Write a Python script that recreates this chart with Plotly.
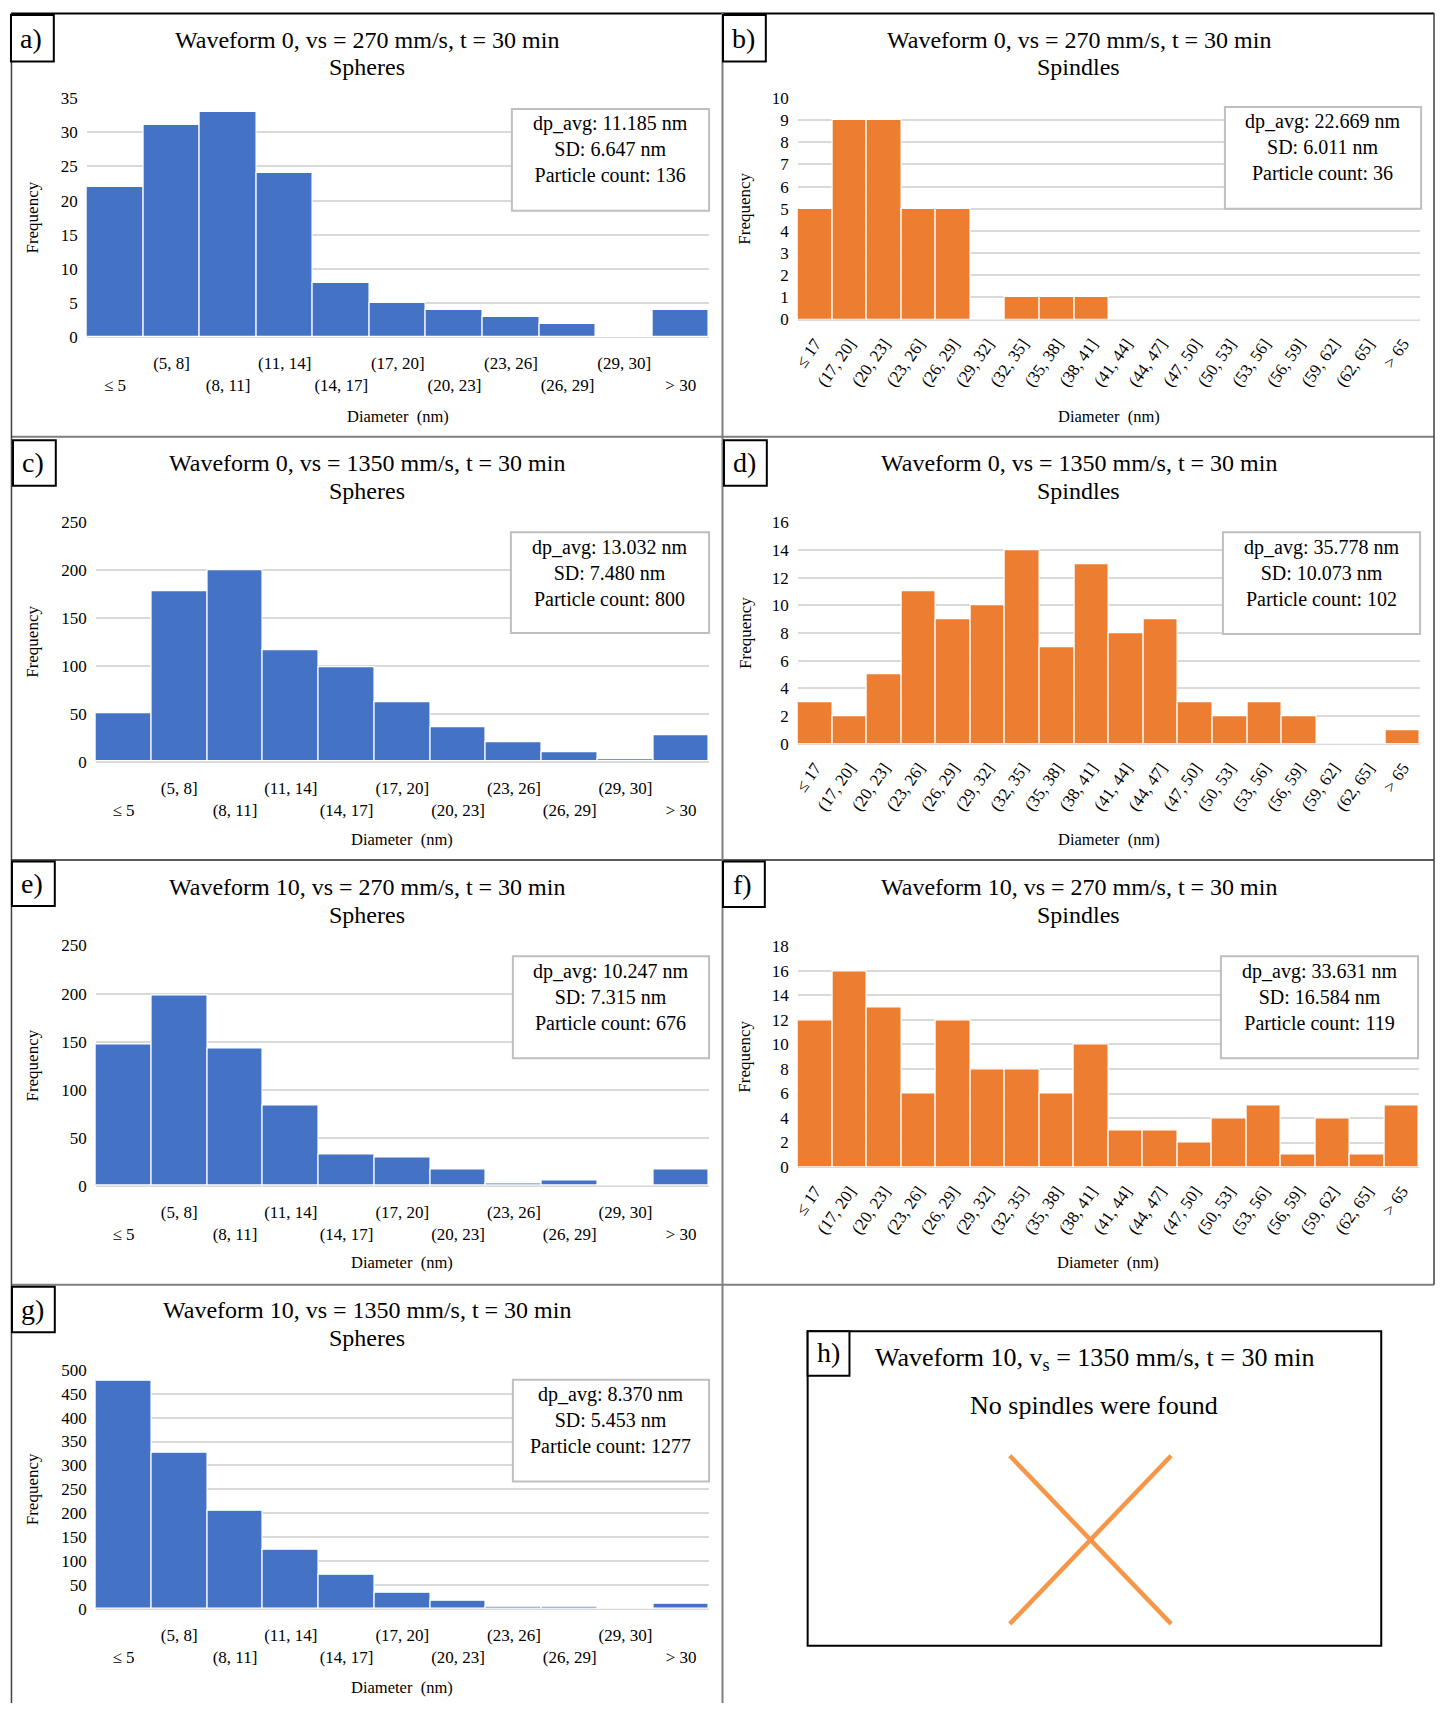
import plotly.graph_objects as go

# ---------------- data ----------------
sphere_bins = ["≤ 5", "(5, 8]", "(8, 11]", "(11, 14]", "(14, 17]", "(17, 20]",
               "(20, 23]", "(23, 26]", "(26, 29]", "(29, 30]", "> 30"]
spindle_bins = ["≤ 17", "(17, 20]", "(20, 23]", "(23, 26]", "(26, 29]", "(29, 32]",
                "(32, 35]", "(35, 38]", "(38, 41]", "(41, 44]", "(44, 47]", "(47, 50]",
                "(50, 53]", "(53, 56]", "(56, 59]", "(59, 62]", "(62, 65]", "> 65"]

a_w0_270_spheres = [22, 31, 33, 24, 8, 5, 4, 3, 2, 0, 4]
b_w0_270_spindles = [5, 9, 9, 5, 5, 0, 1, 1, 1, 0, 0, 0, 0, 0, 0, 0, 0, 0]
c_w0_1350_spheres = [50, 178, 200, 116, 99, 62, 36, 20, 10, 2, 27]
d_w0_1350_spindles = [3, 2, 5, 11, 9, 10, 14, 7, 13, 8, 9, 3, 2, 3, 2, 0, 0, 1]
e_w10_270_spheres = [147, 198, 143, 84, 33, 29, 17, 2, 6, 0, 17]
f_w10_270_spindles = [12, 16, 13, 6, 12, 8, 8, 6, 10, 3, 3, 2, 4, 5, 1, 4, 1, 5]
g_w10_1350_spheres = [476, 327, 205, 124, 71, 35, 17, 5, 5, 1, 11]

titles = ["Waveform 0, vs = 270 mm/s, t = 30 min", "Waveform 0, vs = 270 mm/s, t = 30 min",
          "Waveform 0, vs = 1350 mm/s, t = 30 min", "Waveform 0, vs = 1350 mm/s, t = 30 min",
          "Waveform 10, vs = 270 mm/s, t = 30 min", "Waveform 10, vs = 270 mm/s, t = 30 min",
          "Waveform 10, vs = 1350 mm/s, t = 30 min"]
subtitles = ["Spheres", "Spindles", "Spheres", "Spindles", "Spheres", "Spindles", "Spheres"]
labels = ["a)", "b)", "c)", "d)", "e)", "f)", "g)"]
stats = [("11.185", "6.647", "136"), ("22.669", "6.011", "36"),
         ("13.032", "7.480", "800"), ("35.778", "10.073", "102"),
         ("10.247", "7.315", "676"), ("33.631", "16.584", "119"),
         ("8.370", "5.453", "1277")]
y_max = [35, 10, 250, 16, 250, 18, 500]
y_step = [5, 1, 50, 2, 50, 2, 50]
h_title = "Waveform 10, v<sub>s</sub> = 1350 mm/s, t = 30 min"
h_text = "No spindles were found"

series = [a_w0_270_spheres, b_w0_270_spindles, c_w0_1350_spheres, d_w0_1350_spindles,
          e_w10_270_spheres, f_w10_270_spindles, g_w10_1350_spheres]
kinds = ["sph", "spi", "sph", "spi", "sph", "spi", "sph"]

BLUE = "#4472C4"
ORANGE = "#ED7D31"
X_ORANGE = "#F79646"
GRID = "#D9D9D9"
FONT = "Times New Roman, Liberation Serif, serif"

# ---------------- layout geometry (page pixels) ----------------
W, H = 1441, 1713

def fx(x):
    return x / W

def fy(y):
    return 1 - y / H

plots = [(81, 706, 90, 332), (795, 1420, 90, 314),
         (90, 706, 519, 761), (795, 1420, 519, 743),
         (90, 706, 947, 1190), (795, 1419, 948, 1171),
         (90, 706, 1376, 1618)]
stat_boxes = [(508, 706, 101, 204), (1224, 1421, 99, 202),
              (507, 706, 529, 631), (1222, 1420, 529, 632),
              (509, 706, 958, 1061), (1220, 1418, 958, 1061),
              (509, 706, 1386, 1489)]
title_pos = [(363, 31), (1077, 31), (363, 459), (1077, 459),
             (363, 888), (1077, 888), (363, 1316)]
label_boxes = [(5, 48, 6, 53), (720, 763, 6, 53), (7, 50, 436, 482), (721, 764, 436, 482),
               (6, 49, 862, 907), (720, 762, 862, 908), (6, 49, 1292, 1338)]
freq_x = [27, 742, 27, 742, 27, 742, 27]
diam_y = [412, 412, 840, 840, 1268, 1268, 1697]

fig = go.Figure()
layout = dict(
    width=W, height=H, margin=dict(l=0, r=0, t=0, b=0),
    paper_bgcolor="white", plot_bgcolor="white",
    bargap=0, showlegend=False,
    font=dict(family=FONT, color="#000000"),
)
annotations = []
shapes = []

for i in range(7):
    n = i + 1
    xa = "x" if n == 1 else f"x{n}"
    ya = "y" if n == 1 else f"y{n}"
    x0, x1, y0, y1 = plots[i]
    bins = sphere_bins if kinds[i] == "sph" else spindle_bins
    color = BLUE if kinds[i] == "sph" else ORANGE
    fig.add_trace(go.Bar(x=bins, y=series[i], xaxis=xa, yaxis=ya,
                         marker=dict(color=color, line=dict(color="white", width=1.2)),
                         hoverinfo="x+y"))
    if kinds[i] == "sph":
        # Excel staggers the sphere-bin labels over two rows
        ttext = [("<br>" + b) if k % 2 == 0 else b for k, b in enumerate(bins)]
        tangle = 0
        standoff = 14
    else:
        ttext = bins
        tangle = -55
        standoff = 10
    layout["xaxis" if n == 1 else f"xaxis{n}"] = dict(
        domain=[fx(x0), fx(x1)], anchor=ya, type="category",
        tickmode="array", tickvals=bins, ticktext=ttext, tickangle=tangle,
        tickfont=dict(size=17, family=FONT, color="#000"),
        showgrid=False, showline=False, zeroline=False, ticks="",
        ticklabelstandoff=standoff, fixedrange=True,
    )
    layout["yaxis" if n == 1 else f"yaxis{n}"] = dict(
        domain=[fy(y1), fy(y0)], anchor=xa, range=[0, y_max[i]],
        tickmode="linear", tick0=0, dtick=y_step[i],
        showgrid=True, gridcolor=GRID, gridwidth=1.5,
        zeroline=True, zerolinecolor=GRID, zerolinewidth=1.5,
        showline=False, ticks="", ticklabelstandoff=8,
        tickfont=dict(size=17, family=FONT, color="#000"), fixedrange=True,
    )
    tx, ty = title_pos[i]
    annotations.append(dict(text=titles[i], x=fx(tx), y=fy(ty), xref="paper", yref="paper",
                            xanchor="center", yanchor="middle", showarrow=False,
                            font=dict(size=24, family=FONT)))
    annotations.append(dict(text=subtitles[i], x=fx(tx), y=fy(ty + 28), xref="paper", yref="paper",
                            xanchor="center", yanchor="middle", showarrow=False,
                            font=dict(size=24, family=FONT)))
    annotations.append(dict(text="Frequency", x=fx(freq_x[i]), y=fy((y0 + y1) / 2),
                            xref="paper", yref="paper", textangle=-90,
                            xanchor="center", yanchor="middle", showarrow=False,
                            font=dict(size=17, family=FONT)))
    annotations.append(dict(text="Diameter  (nm)", x=fx((x0 + x1) / 2), y=fy(diam_y[i]),
                            xref="paper", yref="paper",
                            xanchor="center", yanchor="middle", showarrow=False,
                            font=dict(size=16.5, family=FONT)))
    sx0, sx1, sy0, sy1 = stat_boxes[i]
    shapes.append(dict(type="rect", xref="paper", yref="paper",
                       x0=fx(sx0), x1=fx(sx1), y0=fy(sy1), y1=fy(sy0),
                       line=dict(color="#BFBFBF", width=2), fillcolor="white", layer="above"))
    dp, sd, cnt = stats[i]
    annotations.append(dict(text=f"dp_avg: {dp} nm<br>SD: {sd} nm<br>Particle count: {cnt}",
                            x=fx((sx0 + sx1) / 2), y=fy(sy0 + 41), xref="paper", yref="paper",
                            xanchor="center", yanchor="middle", showarrow=False, align="center",
                            font=dict(size=20, family=FONT)))
    lx0, lx1, ly0, ly1 = label_boxes[i]
    shapes.append(dict(type="rect", xref="paper", yref="paper",
                       x0=fx(lx0), x1=fx(lx1), y0=fy(ly1), y1=fy(ly0),
                       line=dict(color="black", width=2), fillcolor="white", layer="above"))
    annotations.append(dict(text=labels[i], x=fx((lx0 + lx1) / 2 - 1), y=fy((ly0 + ly1) / 2),
                            xref="paper", yref="paper", xanchor="center", yanchor="middle",
                            showarrow=False, font=dict(size=28, family=FONT)))

def hline(y, xa, xb, color, w):
    shapes.append(dict(type="line", xref="paper", yref="paper",
                       x0=fx(xa), x1=fx(xb), y0=fy(y), y1=fy(y),
                       line=dict(color=color, width=w), layer="below"))

def vline(x, ya, yb, color, w):
    shapes.append(dict(type="line", xref="paper", yref="paper",
                       x0=fx(x), x1=fx(x), y0=fy(ya), y1=fy(yb),
                       line=dict(color=color, width=w), layer="below"))

hline(4.5, 5, 1434, "#000000", 2)
hline(432.5, 5, 1434, "#7F7F7F", 2)
hline(860.5, 5, 1434, "#595959", 2)
hline(1290, 5, 1434, "#7F7F7F", 2)
vline(5.5, 4, 1713, "#404040", 1.5)
vline(719.5, 4, 1713, "#7F7F7F", 2)
vline(1434, 4, 1290, "#404040", 1.5)

# ---------------- panel h ----------------
hx0, hx1, hy0, hy1 = 805, 1381, 1337, 1655
shapes.append(dict(type="rect", xref="paper", yref="paper",
                   x0=fx(hx0), x1=fx(hx1), y0=fy(hy1), y1=fy(hy0),
                   line=dict(color="black", width=2), fillcolor="rgba(0,0,0,0)"))
shapes.append(dict(type="rect", xref="paper", yref="paper",
                   x0=fx(805), x1=fx(847), y0=fy(1382), y1=fy(1337),
                   line=dict(color="black", width=2), fillcolor="white"))
annotations.append(dict(text="h)", x=fx(826), y=fy(1359), xref="paper", yref="paper",
                        xanchor="center", yanchor="middle", showarrow=False,
                        font=dict(size=28, family=FONT)))
annotations.append(dict(text=h_title, x=fx(1093), y=fy(1365), xref="paper", yref="paper",
                        xanchor="center", yanchor="middle", showarrow=False,
                        font=dict(size=26, family=FONT)))
annotations.append(dict(text=h_text, x=fx(1093), y=fy(1412), xref="paper", yref="paper",
                        xanchor="center", yanchor="middle", showarrow=False,
                        font=dict(size=26, family=FONT)))
shapes.append(dict(type="line", xref="paper", yref="paper",
                   x0=fx(1008), y0=fy(1463), x1=fx(1170), y1=fy(1633),
                   line=dict(color=X_ORANGE, width=4.5)))
shapes.append(dict(type="line", xref="paper", yref="paper",
                   x0=fx(1170), y0=fy(1463), x1=fx(1008), y1=fy(1633),
                   line=dict(color=X_ORANGE, width=4.5)))

layout["annotations"] = annotations
layout["shapes"] = shapes
fig.update_layout(**layout)

fig.write_html("out.html", config={"displayModeBar": False},
               post_script="document.body.style.margin='0px';document.body.style.padding='0px';")
